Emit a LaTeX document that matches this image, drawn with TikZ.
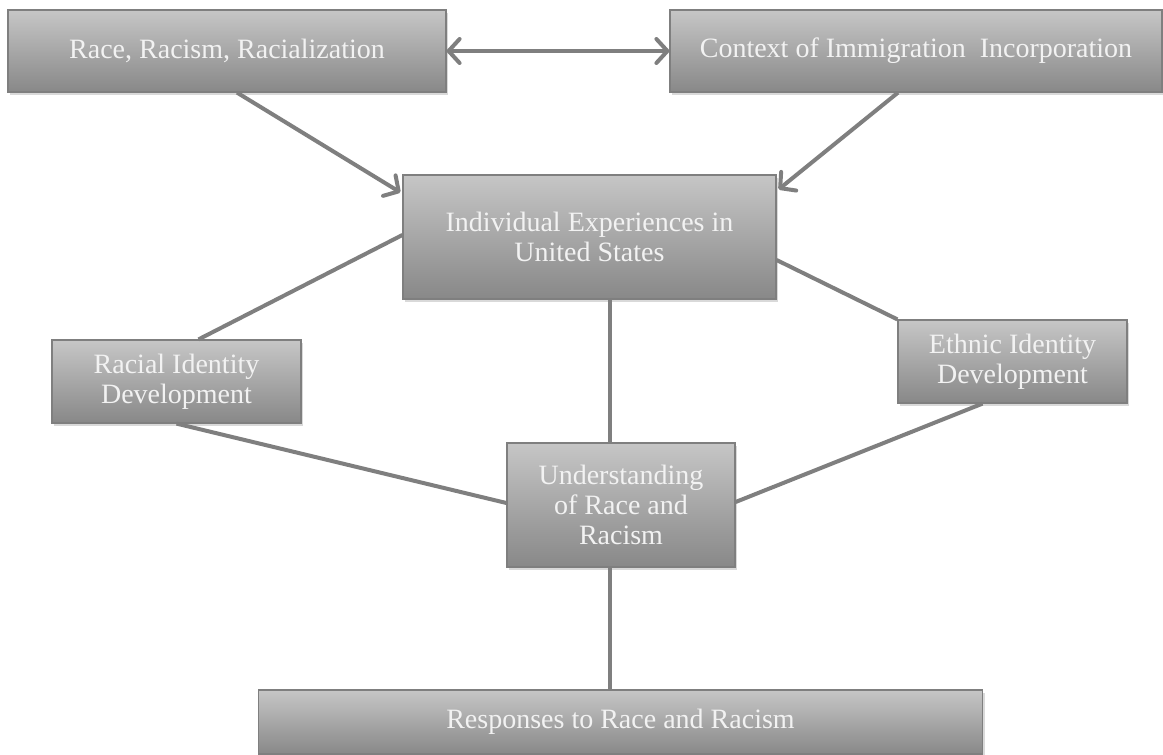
\documentclass[tikz,border=0pt]{standalone}
\usepackage{fontspec}
\setmainfont{Liberation Serif}
\usetikzlibrary{arrows.meta,shadows,calc}
\definecolor{boxtop}{HTML}{C6C6C6}
\definecolor{boxbot}{HTML}{888888}
\definecolor{edge}{HTML}{7F7F7F}
\begin{document}
\begin{tikzpicture}[x=1pt,y=-1pt,
  box/.style={draw=edge,line width=1.2pt,top color=boxtop,bottom color=boxbot,
    text=white!95!black,align=center,inner sep=0pt,
    font=\fontsize{28}{30}\selectfont,
    drop shadow={shadow xshift=2pt,shadow yshift=-3pt,opacity=0.3}},
  link/.style={draw=edge,line width=4pt},
  tip/.tip={Straight Barb[length=11pt,width=24pt,line width=4pt,round]}]
  \useasboundingbox (0,0) rectangle (1163,755);

  % top row
  \node[box,minimum width=438pt,minimum height=82pt] (race) at (227,51) {Race, Racism, Racialization};
  \node[box,minimum width=492pt,minimum height=82pt] (ctx) at (916,51) {Context of Immigration~~Incorporation};

  % middle
  \node[box,minimum width=373pt,minimum height=124pt] (indiv) at (589.5,237) {Individual Experiences in\\United States};
  \node[box,minimum width=249pt,minimum height=83pt] (racid) at (176.5,381.5) {Racial Identity\\Development};
  \node[box,minimum width=229pt,minimum height=83pt] (ethid) at (1012.5,361.5) {Ethnic Identity\\Development};
  \node[box,minimum width=228pt,minimum height=124pt] (under) at (621,505) {Understanding\\of Race and\\Racism};

  % bottom
  \node[box,minimum width=724pt,minimum height=64pt] (resp) at (620.5,722) {Responses to Race and Racism};

  \draw[link,tip-tip] (race) -- (ctx);
  \draw[link,-tip] ($(race.south)+(10,0)$) -- ($(indiv.north west)+(-2,18)$);
  \draw[link,-tip] ($(ctx.south)+(-18,0)$) -- ($(indiv.north east)+(2,15)$);
  \draw[link] ($(indiv.west)+(0,-2)$) -- ($(racid.north)+(22,0)$);
  \draw[link] ($(indiv.east)+(0,23)$) -- (ethid.north west);
  \draw[link] ($(indiv.south)+(20.5,0)$) -- ($(under.north)+(-11,0)$);
  \draw[link] (racid.south) -- ($(under.west)+(0,-2)$);
  \draw[link] ($(ethid.south)+(-30,0)$) -- ($(under.east)+(0,-3)$);
  \draw[link] ($(under.south)+(-11,0)$) -- ($(resp.north)+(-10.5,0)$);
\end{tikzpicture}
\end{document}
